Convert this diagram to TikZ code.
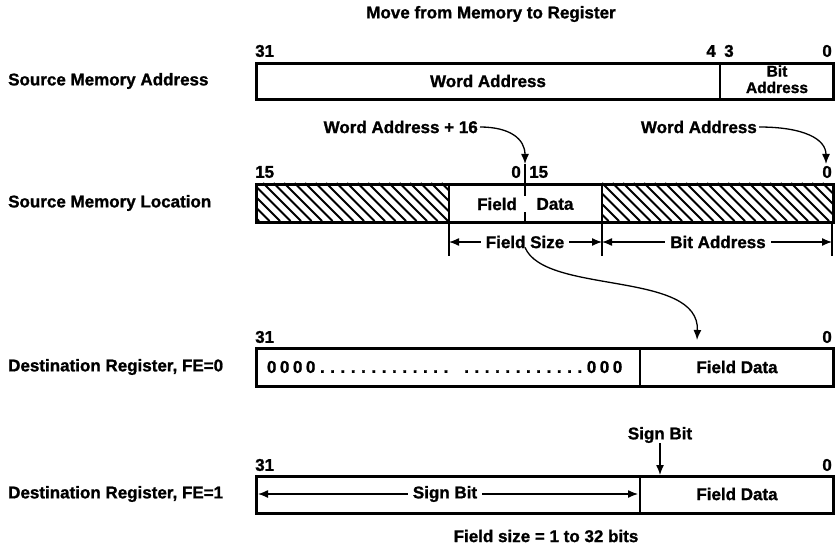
\documentclass[tikz,border=0pt]{standalone}
\usepackage{fontspec}
\setmainfont{Liberation Sans}[BoldFeatures={FakeBold=1.2}]
\usetikzlibrary{arrows.meta}
\newcommand\fsz{\fontsize{17}{17.5}\selectfont\bfseries}
\newcommand\fsm{\fontsize{15.5}{16}\selectfont\bfseries}
\def\spcd#1{\ifx#1\relax\else\ifx0#1\makebox[13pt]{#1}\else\makebox[10.3pt]{#1}\fi\expandafter\spcd\fi}
\begin{document}
\begin{tikzpicture}[x=1pt,y=-1pt,
  every node/.style={font=\fsz, inner sep=0pt},
  regbox/.style={draw, line width=2.6pt},
  divline/.style={line width=1.3pt},
  hatch/.style={line width=1.8pt},
  arr/.style={line width=1.3pt, -{Latex[length=10pt,width=8pt]}},
  dim/.style={line width=1.3pt, {Latex[length=10pt,width=8pt]}-{Latex[length=10pt,width=8pt]}},
  gaplbl/.style={fill=white, inner xsep=5pt, inner ysep=1pt}]
\useasboundingbox (0,0) rectangle (837,548);

% title
\node (title) at (491,14) {Move from Memory to Register};

% left labels
\node[anchor=west] (l1) at (8,81) {Source Memory Address};
\node[anchor=west] (l2) at (8,203) {Source Memory Location};
\node[anchor=west] (l3) at (8,367) {Destination Register, FE=0};
\node[anchor=west] (l4) at (8,494) {Destination Register, FE=1};

% ---------- row 1
\node[regbox, anchor=north west, minimum width=577pt, minimum height=36pt] (b1) at (255,62) {};
\draw[divline] (720,62) -- (720,98);
\node[anchor=west] (b1h) at (255,51) {31};
\node[anchor=east] (b1m) at (716,51) {4};
\node[anchor=west] (b1n) at (724,51) {3};
\node[anchor=east] (b1l) at (832,51) {0};
\node (wa) at (488,81) {Word Address};
\node[font=\fsm] (bit1) at (777,71) {Bit};
\node[font=\fsm] (bit2) at (777,87.5) {Address};

% ---------- row 2
\begin{scope}
  \clip (255,183) rectangle (449,221);
  \foreach \x in {200,210.5,...,460} \draw[hatch] (\x,183) -- ++(38,38);
\end{scope}
\begin{scope}
  \clip (602,183) rectangle (832,221);
  \foreach \x in {560,570.5,...,840} \draw[hatch] (\x,183) -- ++(38,38);
\end{scope}
\node[regbox, anchor=north west, minimum width=577pt, minimum height=38pt] (b2) at (255,183) {};
\draw[line width=2pt] (449,183) -- (449,221);
\draw[line width=2pt] (602,183) -- (602,221);
\node[anchor=west] (b2h) at (255,172) {15};
\node[anchor=east] (b2m) at (521,172) {0};
\node[anchor=west] (b2n) at (529,172) {15};
\node[anchor=east] (b2l) at (832,172) {0};
\node (fld) at (497,204) {Field};
\node (dat) at (555,204) {Data};
\coordinate (t16) at (525,164);
\coordinate (t0) at (826,164);
\draw[divline] (t16) -- (525,196);
\draw[divline] (525,212) -- (525,221);

\node[anchor=east] (wa16) at (478,127) {Word Address + 16};
\node[anchor=east] (wa0) at (757,127) {Word Address};
\draw[arr] ([xshift=2pt]wa16.east) .. controls +(30,0) and +(0,-25) .. (t16);
\draw[arr] ([xshift=2pt]wa0.east) .. controls +(45,0) and +(0,-25) .. (t0);

% dimension lines
\coordinate (d1) at (449,242);
\coordinate (d2) at (602,242);
\coordinate (d3) at (832,242);
\draw[divline] (449,221) -- (449,256);
\draw[divline] (602,221) -- (602,256);
\draw[divline] (832,221) -- (832,256);
\draw[dim] (d1) -- (d2);
\draw[dim] (d2) -- (d3);
\node[gaplbl] (fs) at (525,242) {Field Size};
\node[gaplbl] (ba) at (718,242) {Bit Address};

% curve to destination
\coordinate (c3) at (697,340);
\draw[arr] ([yshift=2pt]fs.south) .. controls (545,295) and (700,270) .. (c3);

% ---------- row 3
\node[regbox, anchor=north west, minimum width=577pt, minimum height=38pt] (b3) at (255,347) {};
\draw[divline] (640,347) -- (640,385);
\node[anchor=west] (b3h) at (255,337) {31};
\node[anchor=east] (b3l) at (832,337) {0};
\node[anchor=west] (zeros) at (265,367) {\spcd0000.............~............000\relax};
\node (fd3) at (737,367) {Field Data};

% ---------- row 4
\node[regbox, anchor=north west, minimum width=577pt, minimum height=37pt] (b4) at (255,475) {};
\draw[divline] (640,475) -- (640,512);
\node[anchor=west] (b4h) at (255,465) {31};
\node[anchor=east] (b4l) at (832,465) {0};
\coordinate (s1) at (258,494);
\coordinate (s2) at (638,494);
\draw[dim] (s1) -- (s2);
\node[gaplbl] (sb) at (445,494) {Sign Bit};
\node (fd4) at (737,494) {Field Data};
\node (sbt) at (660,435) {Sign Bit};
\coordinate (sbe) at (660,475);
\draw[arr] (sbt.south) -- (sbe);

\node (note) at (546,536) {Field size = 1 to 32 bits};
\end{tikzpicture}
\end{document}
